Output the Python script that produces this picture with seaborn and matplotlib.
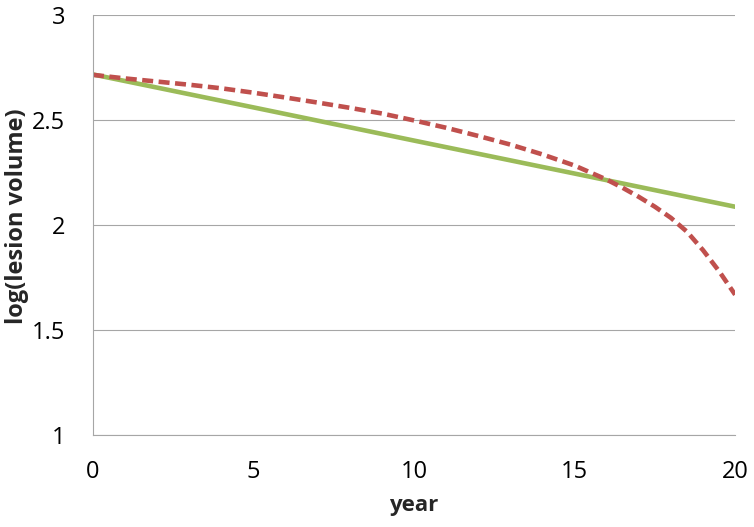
import numpy as np
import pandas as pd
import matplotlib
matplotlib.use('Agg')
import matplotlib.pyplot as plt
import seaborn as sns

# ── data ─────────────────────────────────────────────────
years_curve = [0, 1, 2, 3, 4, 5, 6, 7, 8, 9, 10, 11, 12, 13, 14, 15, 16,
               16.5, 17, 17.5, 18, 18.5, 19, 19.5, 20]
curve_vals = [2.715, 2.698, 2.683, 2.668, 2.651, 2.630, 2.607, 2.583, 2.558, 2.531, 2.498,
              2.463, 2.424, 2.383, 2.336, 2.283, 2.216,
              2.177, 2.134, 2.087, 2.034, 1.968, 1.880, 1.780, 1.668]

years_line = [0, 5, 10, 15, 20]
line_vals = [2.717, 2.560, 2.402, 2.245, 2.087]

x_ticks = [0, 5, 10, 15, 20]
y_ticks = [1, 1.5, 2, 2.5, 3]
y_tick_labels = ['1', '1.5', '2', '2.5', '3']

GREEN = '#9BBB59'
RED = '#C0504D'
GRID = '#A6A6A6'

sns.set_theme(style='white')
plt.rcParams['font.family'] = ['Open Sans', 'DejaVu Sans']

fig = plt.figure(figsize=(7.54, 5.27), dpi=100)
ax = fig.add_axes([0.1233, 0.1746, 0.8517, 0.7969])

df_line = pd.DataFrame({'year': years_line, 'val': line_vals})
df_curve = pd.DataFrame({'year': years_curve, 'val': curve_vals})

sns.lineplot(data=df_line, x='year', y='val', ax=ax, color=GREEN, linewidth=3.3)
sns.lineplot(data=df_curve, x='year', y='val', ax=ax, color=RED, linewidth=3.3)
ax.lines[-1].set_linestyle((0, (2.4, 1.2)))

ax.set_xlim(0, 20)
ax.set_ylim(1, 3)
ax.set_xticks(x_ticks)
ax.set_yticks(y_ticks)
ax.set_yticklabels(y_tick_labels)
ax.tick_params(axis='both', labelsize=17, labelcolor='black', color=GRID,
               length=6, width=0.8, direction='out')
ax.tick_params(axis='x', pad=12)
ax.tick_params(axis='y', pad=14)
ax.grid(axis='y', color=GRID, linewidth=0.8)
ax.grid(axis='x', visible=False)

for side in ['top', 'right']:
    ax.spines[side].set_visible(False)
for side in ['left', 'bottom']:
    ax.spines[side].set_color(GRID)
    ax.spines[side].set_linewidth(0.8)

ax.set_xlabel('year', fontsize=16, fontweight='bold')
ax.set_ylabel('log(lesion volume)', fontsize=17, fontweight='bold')
ax.xaxis.set_label_coords(0.5, -0.142)
ax.yaxis.set_label_coords(-0.1, 0.52)

fig.savefig('out.png', dpi=100)
